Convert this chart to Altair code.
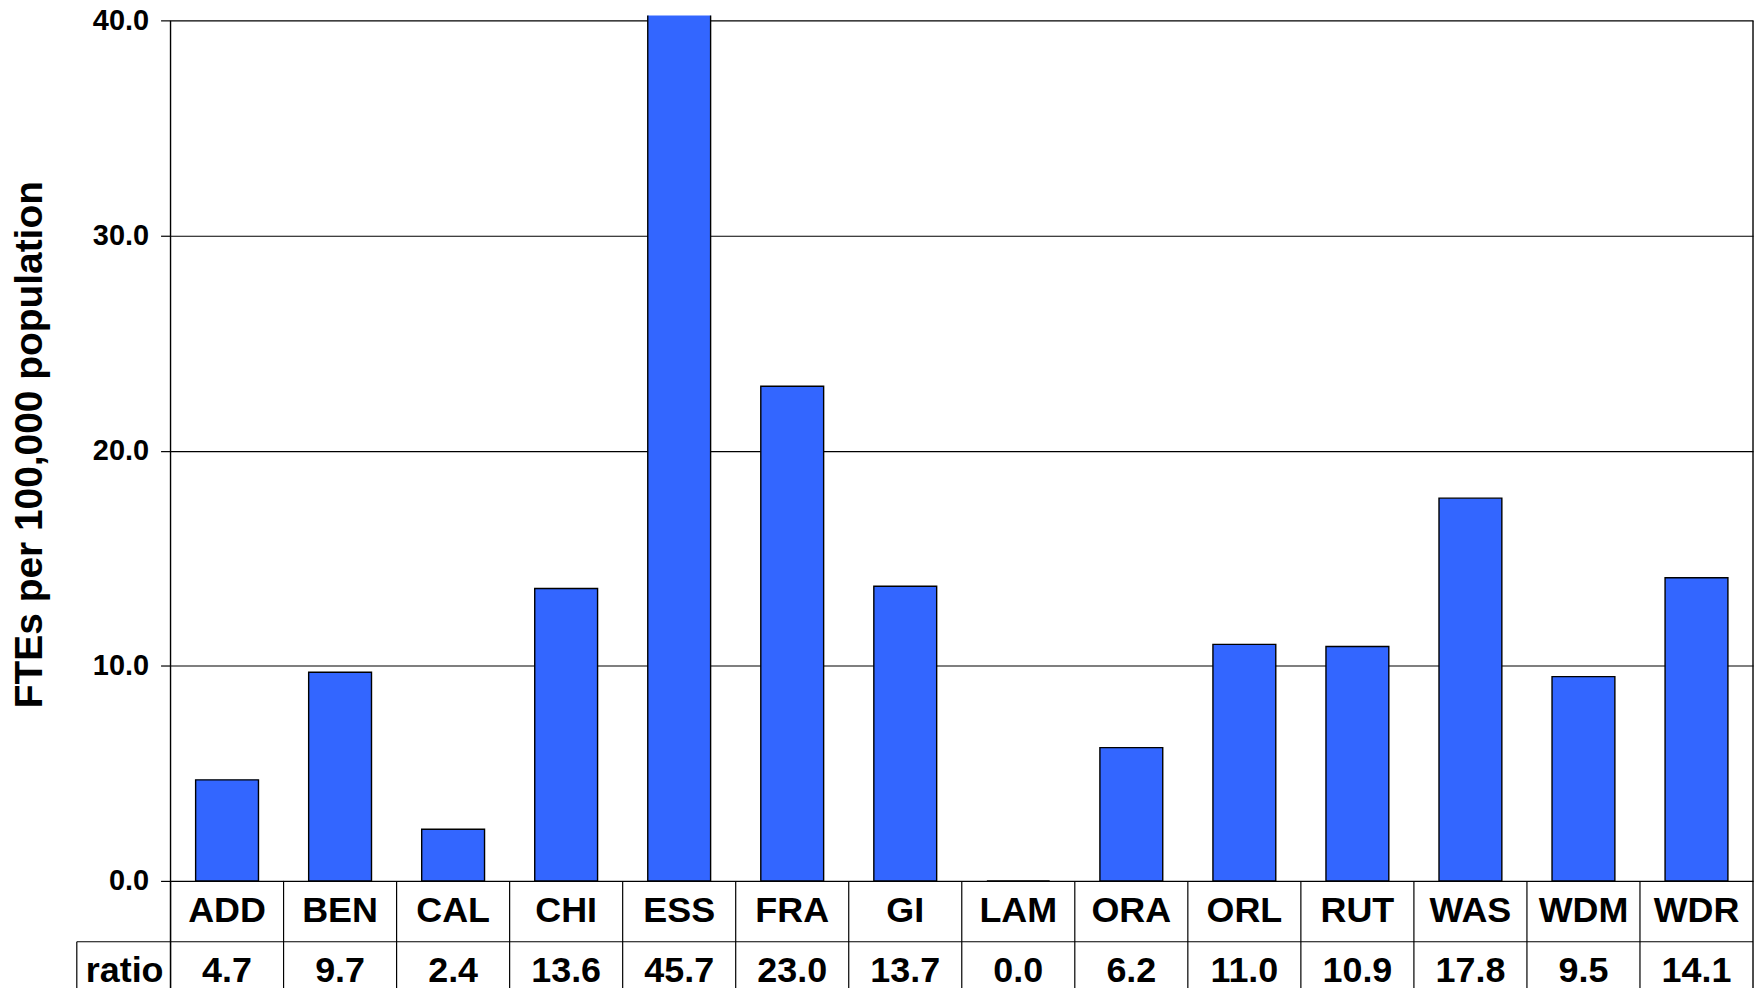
import altair as alt
import pandas as pd

categories = ["ADD", "BEN", "CAL", "CHI", "ESS", "FRA", "GI", "LAM", "ORA", "ORL", "RUT", "WAS", "WDM", "WDR"]
ratio = [4.7, 9.7, 2.4, 13.6, 45.7, 23.0, 13.7, 0.0, 6.2, 11.0, 10.9, 17.8, 9.5, 14.1]
y_ticks = [0, 10, 20, 30, 40]
row_label = ["ratio"]
y_title = "FTEs per 100,000 population"

df = pd.DataFrame({"cat": categories, "ratio": ratio})
lab = pd.DataFrame({"label": row_label})

FONT = "Liberation Sans"
W, H = 1587, 868
YMAX = 40.25
TOP40 = round(H - 40 * H / YMAX, 2)
STEP = W / len(categories)
BLUE = "#3366FF"
TXT = 36

xenc = alt.X("cat:N", sort=categories,
             scale=alt.Scale(paddingInner=0.444, paddingOuter=0.222),
             axis=None)

base = alt.Chart(df)

bars = base.mark_bar(color=BLUE, stroke="black", strokeWidth=1.4, clip=True).encode(
    x=xenc,
    y=alt.Y("ratio:Q",
            scale=alt.Scale(domain=[0, YMAX], nice=False, zero=True),
            axis=alt.Axis(values=y_ticks, format=".1f", grid=True, gridColor="black",
                          gridWidth=1.2, domain=False, ticks=True,
                          tickColor="black", tickSize=10, tickWidth=1.2,
                          labelFont=FONT, labelFontSize=29, labelFontWeight="bold",
                          labelColor="black", labelPadding=12,
                          title=y_title, titleFont=FONT, titleFontSize=39,
                          titleFontWeight="bold", titleColor="black",
                          titleAngle=270, titleAlign="center", titleBaseline="middle",
                          titleX=-141, titleY=430)),
)

left_border = alt.Chart(lab).mark_rule(color="black", strokeWidth=1.4).encode(
    x=alt.value(0), y=alt.value(TOP40), y2=alt.value(1000))
right_border = alt.Chart(lab).mark_rule(color="black", strokeWidth=1.4).encode(
    x=alt.value(W), y=alt.value(TOP40), y2=alt.value(1000))

band_lines = base.mark_rule(color="black", strokeWidth=1.2, xOffset=-STEP / 2).encode(
    x=xenc, y=alt.value(H), y2=alt.value(1000))

row_div = alt.Chart(lab).mark_rule(color="black", strokeWidth=1.2).encode(
    x=alt.value(-94), x2=alt.value(W), y=alt.value(929))
cell_left = alt.Chart(lab).mark_rule(color="black", strokeWidth=1.2).encode(
    x=alt.value(-94), y=alt.value(929), y2=alt.value(1000))

cat_text = base.mark_text(font=FONT, fontSize=TXT, fontWeight="bold", color="black",
                          baseline="middle").encode(
    x=xenc, y=alt.value(898), text="cat:N")
val_text = base.mark_text(font=FONT, fontSize=TXT, fontWeight="bold", color="black",
                          baseline="middle").encode(
    x=xenc, y=alt.value(958), text=alt.Text("ratio:Q", format=".1f"))
label_text = alt.Chart(lab).mark_text(font=FONT, fontSize=TXT, fontWeight="bold",
                                      color="black", baseline="middle").encode(
    x=alt.value(-46), y=alt.value(958), text="label:N")

chart = alt.layer(bars, left_border, right_border, band_lines, row_div, cell_left,
                  cat_text, val_text, label_text).properties(
    width=W, height=H,
    autosize=alt.AutoSizeParams(type="none"),
    padding={"left": 163, "top": 6, "right": 2, "bottom": 106},
    background="white",
).configure_view(stroke=None)

chart.save("out.html", embed_options={"renderer": "svg", "actions": False})
